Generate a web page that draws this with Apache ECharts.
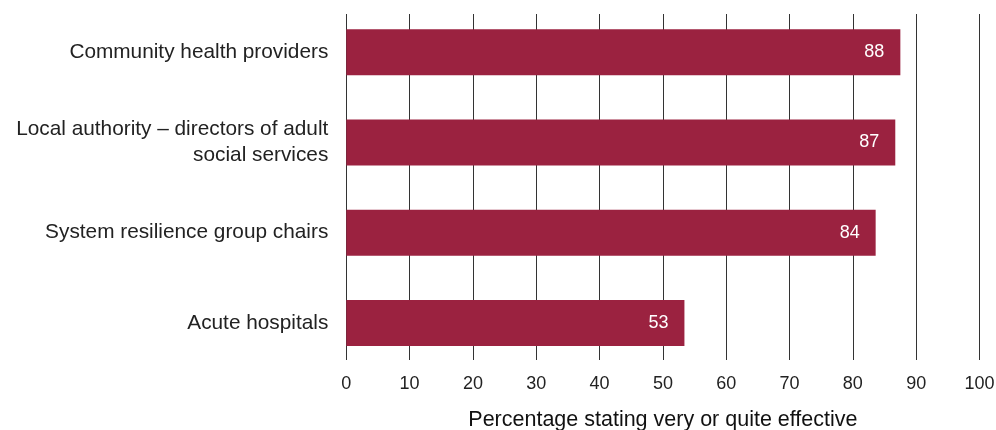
<!DOCTYPE html>
<html><head><meta charset="utf-8">
<script src="https://cdn.jsdelivr.net/npm/echarts@6/dist/echarts.min.js"></script>
<style>html,body{margin:0;padding:0;background:#fff}#c{width:996px;height:430px}</style>
</head><body><div id="c"></div>
<script>
const categories = ['Community health providers', 'Local authority – directors of adult\nsocial services', 'System resilience group chairs', 'Acute hospitals'];
const values = [87.5, 86.7, 83.6, 53.4];
const xTicks = [0, 10, 20, 30, 40, 50, 60, 70, 80, 90, 100];
const xName = 'Percentage stating very or quite effective';

const FONT = '"Liberation Sans", Arial, sans-serif';
const chart = echarts.init(document.getElementById('c'));
chart.setOption({
  animation: false,
  grid: [
    { left: 346.3, right: 16.5, top: 14, height: 346, outerBoundsMode: 'none' },
    { left: 346.3, right: 16.5, top: 7, height: 361, outerBoundsMode: 'none' }
  ],
  xAxis: [
    {
      gridIndex: 0, type: 'value', min: xTicks[0], max: xTicks[xTicks.length - 1], interval: 10,
      axisLine: { show: false }, axisTick: { show: false },
      splitLine: { show: true, lineStyle: { color: '#333', width: 1 } },
      axisLabel: { color: '#222', fontSize: 18, fontFamily: FONT, margin: 15 },
      name: xName, nameLocation: 'middle', nameGap: 49,
      nameTextStyle: { color: '#111', fontSize: 21.5, fontFamily: FONT }
    },
    {
      gridIndex: 1, type: 'value', min: xTicks[0], max: xTicks[xTicks.length - 1],
      show: false
    }
  ],
  yAxis: [
    { gridIndex: 0, type: 'value', show: false },
    {
      gridIndex: 1, type: 'category', data: categories, inverse: true,
      axisLine: { show: false },
      axisTick: { show: false },
      axisLabel: { color: '#222', fontSize: 20.8, fontFamily: FONT, margin: 18, lineHeight: 26, align: 'right' }
    }
  ],
  series: [{
    type: 'bar', xAxisIndex: 1, yAxisIndex: 1, data: values,
    barWidth: 46,
    itemStyle: { color: '#9B2240' },
    label: {
      show: true, position: 'insideRight', distance: 16,
      color: '#fff', fontSize: 18, fontFamily: FONT,
      formatter: p => Math.round(p.value)
    }
  }]
});
</script></body></html>
